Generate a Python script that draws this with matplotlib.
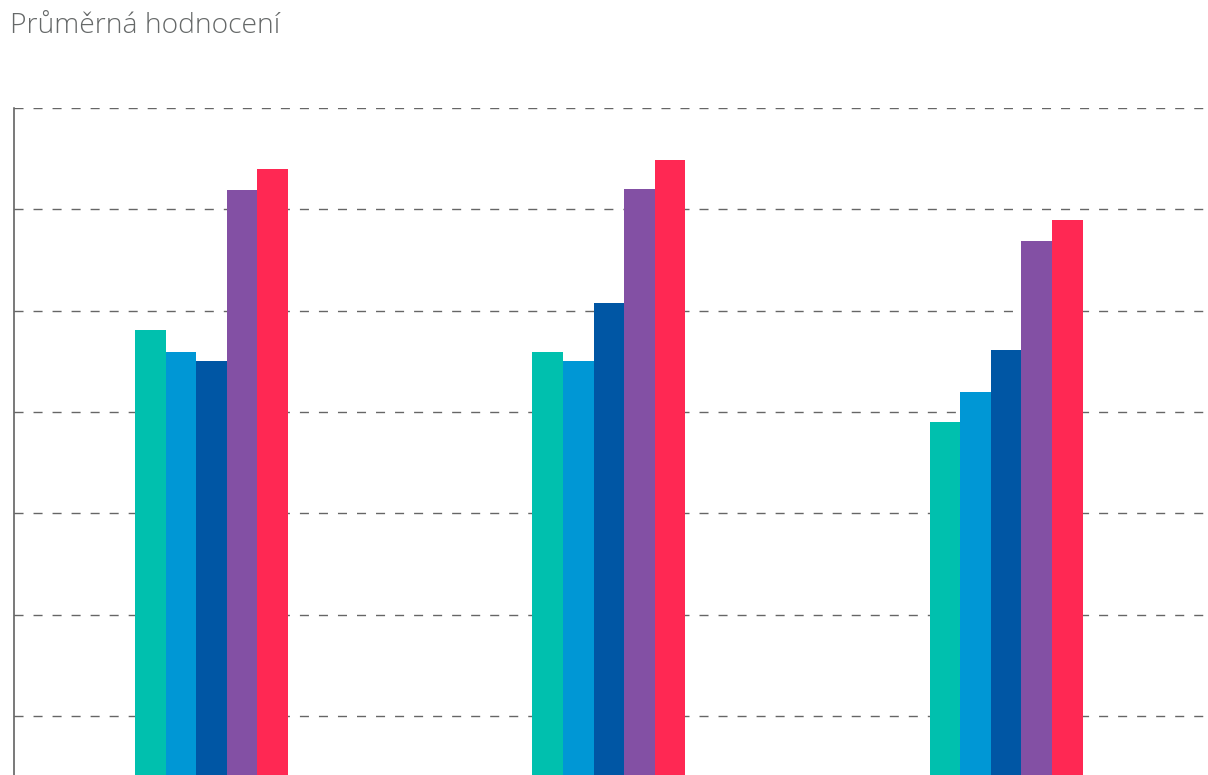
import matplotlib
matplotlib.use("Agg")
import matplotlib.pyplot as plt
import numpy as np

# average ratings per group, one list per series (scale)
groups = ["A", "B", "C"]
series_1 = [4.81, 4.59, 3.90]
series_2 = [4.59, 4.50, 4.20]
series_3 = [4.50, 5.08, 4.61]
series_4 = [6.19, 6.20, 5.69]
series_5 = [6.40, 6.49, 5.89]
colours = ["#00C0AE", "#0097D5", "#0056A4", "#8350A4", "#FF2853"]

fig = plt.figure(figsize=(12.08, 7.75), dpi=100)
# axes bottom lies below the picture edge, as in the reference crop
ax = fig.add_axes([14/1208, -42.3/775, 1192/1208, (817.3-108)/775])

x = np.arange(len(groups))
w = 0.077
all_series = [series_1, series_2, series_3, series_4, series_5]
for i, vals in enumerate(all_series):
    ax.bar(x - 0.003 + (i-2)*w, vals, width=w, color=colours[i], zorder=3)

ax.set_xlim(-0.5, 2.5)
ax.set_ylim(0, 7)
ax.set_yticks(range(1, 8))
ax.set_xticks([])
ax.tick_params(axis="y", length=0, labelleft=False)
ax.grid(axis="y", color="#666666", linewidth=1.0, linestyle=(0, (6.5, 7.2)), zorder=0)
ax.set_axisbelow(True)
for s in ["top", "right", "bottom"]:
    ax.spines[s].set_visible(False)
ax.spines["left"].set_color("#555555")
ax.spines["left"].set_linewidth(1.1)

fig.text(10/1208, 1-33/775, "Průměrná hodnocení", fontsize=20.3, family="Open Sans",
         fontweight="light", color="#666969", ha="left", va="baseline")

fig.savefig("out.png", dpi=100)
